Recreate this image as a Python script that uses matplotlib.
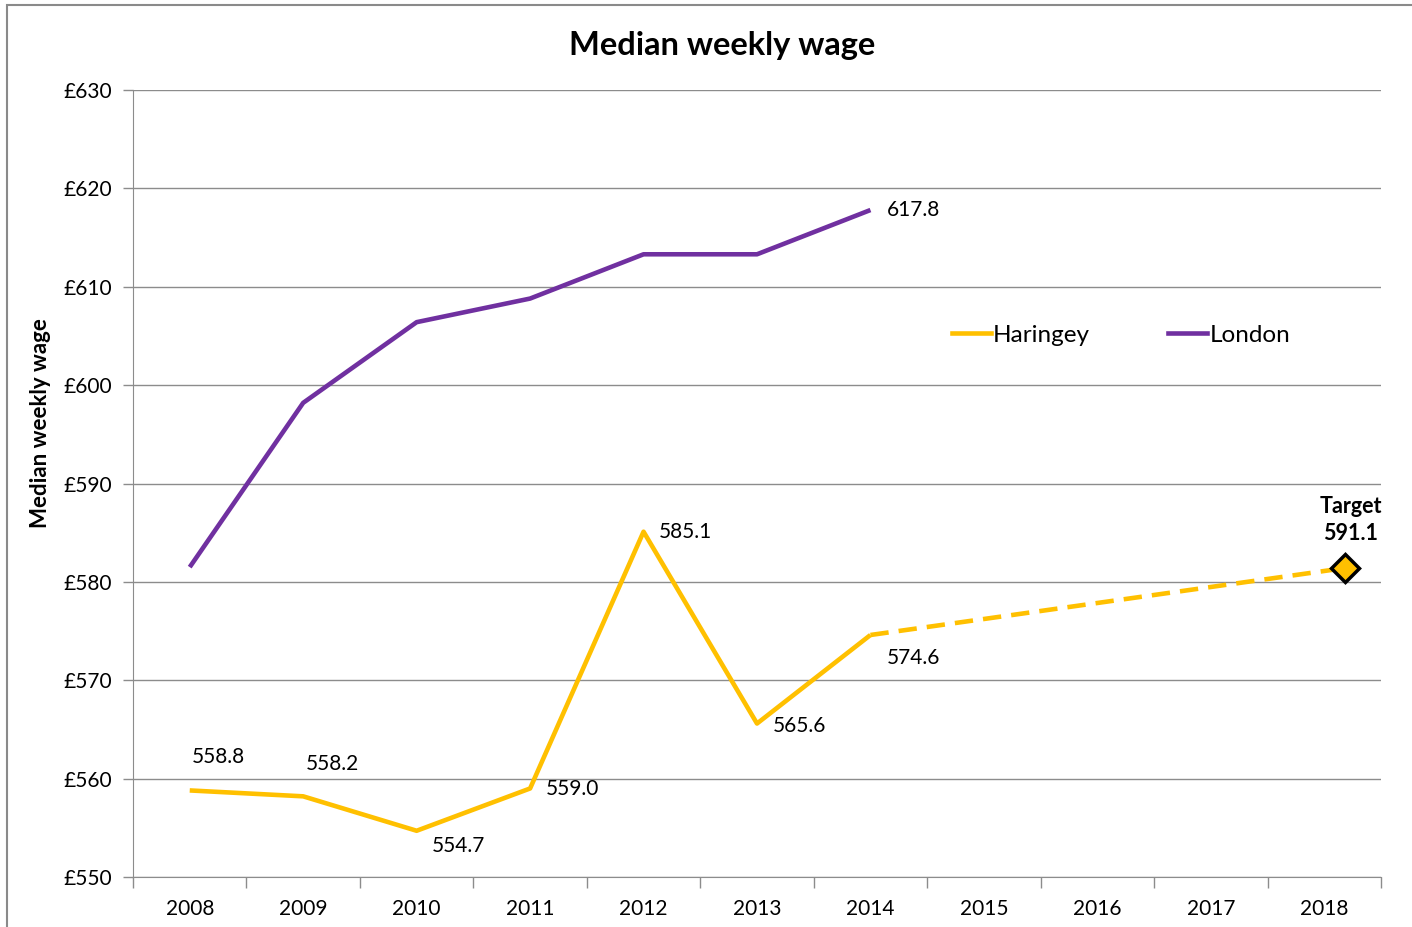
import matplotlib
matplotlib.use("Agg")
import matplotlib.pyplot as plt
from matplotlib.patches import Rectangle

plt.rcParams['font.family'] = ['Lato', 'DejaVu Sans']

years = ['2008', '2009', '2010', '2011', '2012', '2013', '2014',
         '2015', '2016', '2017', '2018']
haringey = [558.8, 558.2, 554.7, 559.0, 585.1, 565.6, 574.6]
london = [581.5, 598.2, 606.4, 608.8, 613.3, 613.3, 617.8]
# projection from the last actual value to the target point
target_x = 10.18
target_plot = 581.4
target_label = 591.1

# label offsets in pixels (dx, dy), one per haringey point
har_offsets = [(2, 33), (3, 32), (15, -15), (16, -1), (15, 0), (16, -2), (16, -23)]

GOLD = '#FFC000'
PURPLE = '#7030A0'
GRID = '#8c8c8c'

fig = plt.figure(figsize=(14.12, 9.27), dpi=100)
fig.patches.append(Rectangle((7 / 1412, -0.05), 1.1, 1 - 5 / 927 + 0.05,
                             transform=fig.transFigure, fill=False,
                             edgecolor='#8a8a8a', linewidth=1.5))
ax = fig.add_axes([133 / 1412, 1 - 877 / 927, 1248 / 1412, 787 / 927])

xs = list(range(len(years)))
ax.plot(xs[:len(london)], london, color=PURPLE, lw=3.3, solid_capstyle='butt')
ax.plot(xs[:len(haringey)], haringey, color=GOLD, lw=3.3, solid_capstyle='butt')

ax.plot([len(haringey) - 1, target_x], [haringey[-1], target_plot], color=GOLD,
        lw=3.3, dashes=(4, 2.2))
ax.plot([target_x], [target_plot], marker='D', markersize=14, markerfacecolor=GOLD,
        markeredgecolor='black', markeredgewidth=2.5, zorder=5)

for i, (v, (dx, dy)) in enumerate(zip(haringey, har_offsets)):
    ax.annotate(f'{v:.1f}', (i, v), xytext=(dx, dy), textcoords='offset pixels',
                ha='left', va='center', fontsize=15)
ax.annotate(f'{london[-1]:.1f}', (len(london) - 1, london[-1]), xytext=(16, 0),
            textcoords='offset pixels', ha='left', va='center', fontsize=15)
ax.annotate(f'Target\n{target_label:.1f}', (target_x, target_plot), xytext=(6, 24),
            textcoords='offset pixels', ha='center', va='bottom',
            fontsize=15.5, fontweight='bold', linespacing=1.35)

ax.set_xlim(-0.5, len(years) - 0.5)
ax.set_ylim(550, 630)
ax.set_yticks(range(550, 631, 10))
ax.set_yticklabels([f'£{v}' for v in range(550, 631, 10)])
ax.set_xticks(xs)
ax.set_xticklabels(years)
ax.set_xticks([i - 0.5 for i in range(len(years) + 1)], minor=True)
ax.tick_params(axis='x', which='major', length=0, pad=16, labelsize=15)
ax.tick_params(axis='x', which='minor', length=8, color=GRID, width=1)
ax.tick_params(axis='y', length=7, color=GRID, width=1, pad=8, labelsize=15)

ax.grid(axis='y', color=GRID, lw=1)
ax.set_axisbelow(True)
for side in ['top', 'right']:
    ax.spines[side].set_visible(False)
for side in ['left', 'bottom']:
    ax.spines[side].set_color(GRID)

ax.set_ylabel('Median weekly wage', fontsize=16, fontweight='bold')
ax.yaxis.set_label_coords((51 - 133) / 1248, (877 - 423) / 787)
fig.suptitle('Median weekly wage', x=722 / 1412, y=1 - 46 / 927, va='center',
             fontsize=23.5, fontweight='bold')

ax.legend(handles=[plt.Line2D([], [], color=GOLD, lw=3.3),
                   plt.Line2D([], [], color=PURPLE, lw=3.3)],
          labels=['Haringey', 'London'], ncol=2, frameon=False,
          loc='center', bbox_to_anchor=(1121 / 1412, 1 - 335 / 927),
          bbox_transform=fig.transFigure, fontsize=17.5, handlelength=1.6,
          handletextpad=0.1, columnspacing=3.2)

plt.savefig('out.png', dpi=100)
